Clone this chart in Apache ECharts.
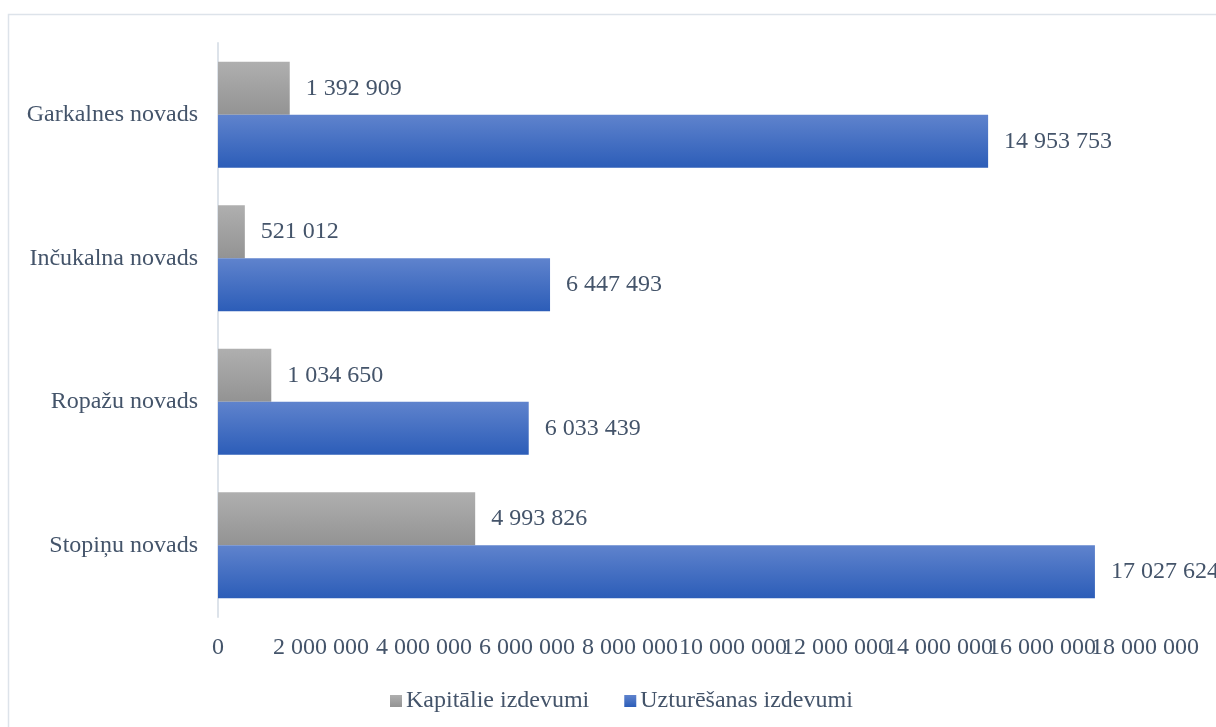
<!DOCTYPE html>
<html>
<head>
<meta charset="utf-8">
<script src="https://cdn.jsdelivr.net/npm/echarts@6/dist/echarts.min.js"></script>
<style>
html,body{margin:0;padding:0;background:#fff;}
#c{width:1216px;height:727px;}
</style>
</head>
<body>
<div id="c"></div>
<script>
const categories = ['Garkalnes novads', 'Inčukalna novads', 'Ropažu novads', 'Stopiņu novads'];
const seriesNames = ['Kapitālie izdevumi', 'Uzturēšanas izdevumi'];
const kapitalie = [1392909, 521012, 1034650, 4993826];
const uzturesanas = [14953753, 6447493, 6033439, 17027624];
const axisMin = 0, axisMax = 18000000, axisStep = 2000000;

const FONT = '"Liberation Serif", "Times New Roman", serif';
const TXT = '#44546a';
const FS = 24;
function fmt(v){ return String(Math.round(v)).replace(/\B(?=(\d{3})+(?!\d))/g, ' '); }
function grad(top, bottom){
  return new echarts.graphic.LinearGradient(0,0,0,1,[{offset:0,color:top},{offset:1,color:bottom}]);
}
const grayG = grad('#afafaf', '#939393');
const blueG = grad('#5f83cd', '#2c5db8');

const chart = echarts.init(document.getElementById('c'), null, {renderer:'canvas'});
const labelCfg = {show:true, position:'right', distance:16, color:TXT, fontFamily:FONT, fontSize:FS, formatter:p=>fmt(p.value)};
const baseAxisLabel = {color:TXT, fontFamily:FONT, fontSize:FS, margin:19, hideOverlap:false, interval:0, align:'center'};
chart.setOption({
  animation:false,
  backgroundColor:'#fff',
  textStyle:{fontFamily:FONT},
  graphic:[{type:'rect', shape:{x:8.5,y:14.5,width:1300,height:800}, style:{fill:'none', stroke:'#dde3ea', lineWidth:1.5}, silent:true, z:-1}],
  grid:{left:218, right:71, top:43, bottom:110, containLabel:false},
  legend:{
    left:385, top:684, itemWidth:12, itemHeight:12, itemGap:35,
    textStyle:{color:TXT, fontFamily:FONT, fontSize:FS, padding:[0,0,0,-1]},
    data:[{name:seriesNames[0], icon:'rect'},{name:seriesNames[1], icon:'rect'}]
  },
  xAxis:[{
    type:'value', position:'bottom', min:axisMin, max:axisMax, interval:axisStep,
    axisLine:{show:false}, axisTick:{show:false}, splitLine:{show:false},
    axisLabel:Object.assign({}, baseAxisLabel, {formatter:v=>fmt(v), showMinLabel:true, showMaxLabel:false})
  },{
    type:'value', position:'bottom', offset:0, min:axisMin, max:axisMax, interval:axisStep,
    axisLine:{show:false}, axisTick:{show:false}, splitLine:{show:false},
    axisLabel:Object.assign({}, baseAxisLabel, {formatter:v=>(v===axisMax ? fmt(v) : ''), showMinLabel:false, showMaxLabel:true})
  }],
  yAxis:{
    type:'category', data:categories, inverse:true,
    axisLine:{show:true, lineStyle:{color:'#dde3ea', width:2}},
    axisTick:{show:false},
    axisLabel:{color:TXT, fontFamily:FONT, fontSize:FS, margin:20}
  },
  series:[
    {name:seriesNames[0], type:'bar', xAxisIndex:0, data:kapitalie, barWidth:53, barGap:'0%', itemStyle:{color:grayG}, label:labelCfg},
    {name:seriesNames[1], type:'bar', xAxisIndex:0, data:uzturesanas, barWidth:53, barGap:'0%', itemStyle:{color:blueG}, label:labelCfg}
  ]
});
</script>
</body>
</html>
